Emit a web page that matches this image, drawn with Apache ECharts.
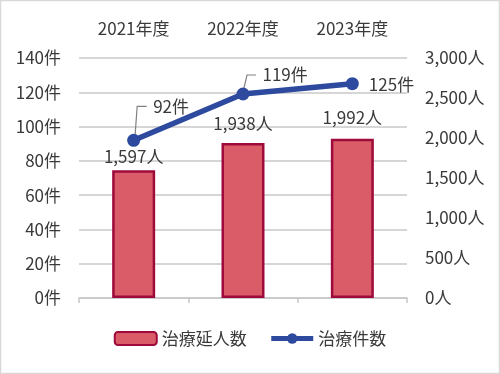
<!DOCTYPE html>
<html><head><meta charset="utf-8">
<script src="https://cdn.jsdelivr.net/npm/echarts@6/dist/echarts.min.js"></script>
<style>html,body{margin:0;padding:0;background:#fff}#c{width:500px;height:374px}</style>
</head><body><div id="c"></div>
<script>
const categories = ['2021年度', '2022年度', '2023年度'];
const patients = [1597, 1938, 1992];   // 治療延人数 (right axis, 人)
const cases = [92, 119, 125];          // 治療件数 (left axis, 件)
const leftTicks = {min: 0, max: 140, interval: 20, unit: '件'};
const rightTicks = {min: 0, max: 3000, interval: 500, unit: '人'};

const FONT = 'Noto Sans CJK JP';
const TXT = '#3a3a3a';
const chart = echarts.init(document.getElementById('c'));
const barLabelDist = [5, 11, 13];
const lineLabelShift = [{dx: 3, dy: -34}, {dx: 3, dy: -19}, {dx: 0, dy: 1}];
// leader-line pixel offsets relative to the data point (style only)
const leaderOffsets = [[[1.5, -6], [3.5, -34], [13, -34]], [[1, -6], [4, -19], [13, -19]]];

chart.setOption({
  animation: false,
  textStyle: {fontFamily: FONT},
  graphic: [{type: 'rect', shape: {x: 0.5, y: 0.5, width: 499, height: 373}, style: {fill: 'none', stroke: '#d9d9d9', lineWidth: 1.5}, silent: true}],
  grid: {left: 79, right: 93, top: 58, bottom: 76},
  legend: {
    bottom: 22, left: 'center', itemWidth: 42, itemHeight: 13, itemGap: 22,
    textStyle: {fontFamily: FONT, fontSize: 17, color: TXT},
    data: ['治療延人数', {name: '治療件数', lineStyle: {width: 5}}]
  },
  xAxis: [
    {type: 'category', data: categories, position: 'top',
     axisLine: {show: false}, axisTick: {show: false},
     axisLabel: {fontSize: 17, color: TXT, margin: 21, fontFamily: FONT}},
    {type: 'category', data: categories, position: 'bottom',
     axisLine: {show: true, lineStyle: {color: '#c8c8c8', width: 1.5}},
     axisTick: {show: true, length: 5, lineStyle: {color: '#c8c8c8', width: 1.5}},
     axisLabel: {show: false}}
  ],
  yAxis: [
    {type: 'value', min: leftTicks.min, max: leftTicks.max, interval: leftTicks.interval, position: 'left',
     axisLine: {show: false}, axisTick: {show: false},
     splitLine: {lineStyle: {color: '#c8c8c8', width: 1.5}},
     axisLabel: {fontSize: 17, color: TXT, margin: 18, fontFamily: FONT, formatter: v => v + leftTicks.unit}},
    {type: 'value', min: rightTicks.min, max: rightTicks.max, interval: rightTicks.interval, position: 'right',
     axisLine: {show: false}, axisTick: {show: false}, splitLine: {show: false},
     axisLabel: {fontSize: 17, color: TXT, margin: 18, fontFamily: FONT, formatter: v => v.toLocaleString('en-US') + rightTicks.unit}}
  ],
  series: [
    {name: '治療延人数', type: 'bar', xAxisIndex: 0, yAxisIndex: 1, barWidth: 43,
     itemStyle: {color: '#da5c69', borderColor: '#9e0b3b', borderWidth: 2.5},
     data: patients.map((v, i) => ({value: v, label: {distance: barLabelDist[i]}})),
     label: {show: true, position: 'top', fontSize: 17, color: TXT, fontFamily: FONT,
       formatter: p => p.value.toLocaleString('en-US') + '人'}},
    {name: 'leaders', type: 'custom', xAxisIndex: 0, yAxisIndex: 0, z: 4, silent: true,
     data: cases.slice(0, 2).map((v, i) => [i, v]),
     renderItem: (params, api) => {
       const p = api.coord([api.value(0), api.value(1)]);
       const offs = leaderOffsets[params.dataIndex];
       return {type: 'polyline', shape: {points: offs.map(o => [p[0] + o[0], p[1] + o[1]])},
               style: {stroke: '#808080', lineWidth: 1.2, fill: null}};
     }},
    {name: '治療件数', type: 'line', xAxisIndex: 0, yAxisIndex: 0, z: 5,
     symbol: 'circle', symbolSize: 13,
     lineStyle: {color: '#2e4a9e', width: 5.5},
     itemStyle: {color: '#2e4a9e'},
     data: cases,
     label: {show: true, position: 'right', distance: 10, fontSize: 17, color: TXT, fontFamily: FONT,
       formatter: p => p.value + '件'},
     labelLayout: p => lineLabelShift[p.dataIndex]}
  ]
});
</script></body></html>
